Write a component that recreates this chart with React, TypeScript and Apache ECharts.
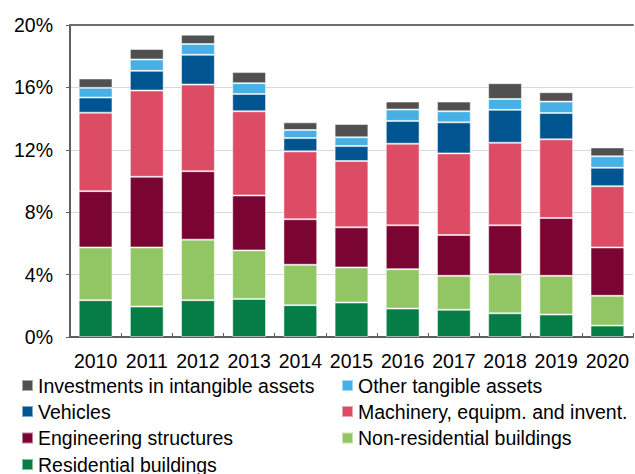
import React, { useEffect, useRef } from "react";
import * as echarts from "echarts";

const years = ["2010", "2011", "2012", "2013", "2014", "2015", "2016", "2017", "2018", "2019", "2020"];
const residential = [2.36, 1.95, 2.36, 2.44, 2.04, 2.21, 1.82, 1.74, 1.52, 1.44, 0.73];
const nonResidential = [3.38, 3.79, 3.88, 3.11, 2.59, 2.25, 2.53, 2.18, 2.51, 2.48, 1.91];
const engineering = [3.61, 4.53, 4.39, 3.52, 2.92, 2.57, 2.81, 2.62, 3.13, 3.71, 3.1];
const machinery = [5.03, 5.53, 5.55, 5.4, 4.35, 4.25, 5.23, 5.23, 5.29, 5.04, 3.93];
const vehicles = [0.97, 1.26, 1.91, 1.11, 0.85, 0.96, 1.46, 1.99, 2.11, 1.69, 1.18];
const otherTangible = [0.62, 0.73, 0.69, 0.69, 0.52, 0.56, 0.73, 0.71, 0.7, 0.73, 0.73];
const intangible = [0.6, 0.67, 0.6, 0.71, 0.49, 0.85, 0.51, 0.62, 1.01, 0.6, 0.57];
const yTicks = [0, 4, 8, 12, 16, 20];

const seriesDefs = [
  { name: "Residential buildings", data: residential, color: "#067d46" },
  { name: "Non-residential buildings", data: nonResidential, color: "#92c664" },
  { name: "Engineering structures", data: engineering, color: "#7a0532" },
  { name: "Machinery, equipm. and invent.", data: machinery, color: "#dc4c64" },
  { name: "Vehicles", data: vehicles, color: "#005591" },
  { name: "Other tangible assets", data: otherTangible, color: "#47b0e5" },
  { name: "Investments in intangible assets", data: intangible, color: "#505050" },
];

// legend layout: [name, column, row]
const legendOrder: [string, number, number][] = [
  ["Investments in intangible assets", 0, 0],
  ["Other tangible assets", 1, 0],
  ["Vehicles", 0, 1],
  ["Machinery, equipm. and invent.", 1, 1],
  ["Engineering structures", 0, 2],
  ["Non-residential buildings", 1, 2],
  ["Residential buildings", 0, 3],
];

const font = "'Liberation Sans', Arial, sans-serif";
const fs = 19.5;

export default function App() {
  const ref = useRef<HTMLDivElement>(null);
  useEffect(() => {
    if (!ref.current) return;
    const chart = echarts.init(ref.current, undefined, { renderer: "svg" });
    const colLeft = [21, 341];
    const rowCenter = [386.5, 412.5, 439, 465.5];
    chart.setOption({
      animation: false,
      grid: { left: 70, right: 2, top: 25, bottom: 137 },
      legend: legendOrder.map(([name, col, row]) => ({
        data: [name],
        left: colLeft[col],
        top: rowCenter[row] - 11,
        padding: 0,
        itemWidth: 11,
        itemHeight: 11,
        icon: "rect",
        textStyle: { fontSize: fs, color: "#000", fontFamily: font },
        selectedMode: false,
      })),
      xAxis: [
        {
          type: "category",
          data: years,
          axisLine: { lineStyle: { color: "#5f5f5f", width: 2 } },
          axisTick: { show: true, inside: true, length: 4, lineStyle: { color: "#5f5f5f", width: 1 } },
          axisLabel: { fontSize: fs, color: "#000", fontFamily: font, margin: 14, interval: 0 },
        },
        {
          type: "category",
          position: "top",
          data: years,
          axisLine: { show: true, lineStyle: { color: "#6e6e6e", width: 2 } },
          axisTick: { show: false },
          axisLabel: { show: false },
        },
      ],
      yAxis: {
        type: "value",
        min: yTicks[0],
        max: yTicks[yTicks.length - 1],
        interval: 4,
        axisLine: { show: true, lineStyle: { color: "#5f5f5f", width: 2 } },
        axisTick: { show: true, length: 4, lineStyle: { color: "#5f5f5f" } },
        axisLabel: { fontSize: fs, color: "#000", fontFamily: font, formatter: "{value}%", margin: 17 },
        splitLine: { lineStyle: { color: "#d9d9d9", width: 1 } },
      },
      series: seriesDefs.map((s) => ({
        name: s.name,
        type: "bar",
        stack: "total",
        data: s.data,
        barCategoryGap: "34%",
        itemStyle: { color: s.color, borderColor: "rgba(255,255,255,0.5)", borderWidth: 1 },
      })),
    });
    return () => chart.dispose();
  }, []);
  return <div ref={ref} style={{ width: 635, height: 474, position: "absolute", left: 0, top: 0 }} />;
}
